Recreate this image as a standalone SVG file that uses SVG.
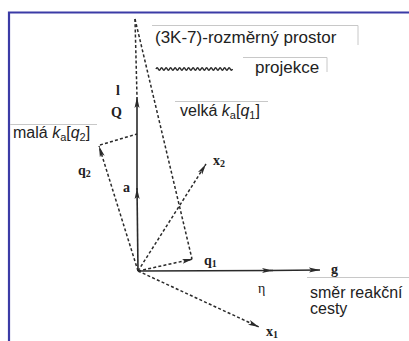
<svg xmlns="http://www.w3.org/2000/svg" width="409" height="341" viewBox="0 0 409 341">
<defs>
<style>
.frame{stroke:#3b3ba6;stroke-width:2.2;fill:none}
.sol{stroke:#2a2a2a;stroke-width:1.6;fill:none}
.dash{stroke:#2a2a2a;stroke-width:1.5;fill:none;stroke-dasharray:3 2.2}
.guide{stroke:#c8c8c8;stroke-width:1;fill:none}
.lbl{font-family:"Liberation Sans",Arial,sans-serif;font-size:16px;fill:#222}
.sym{font-family:"Liberation Serif","Times New Roman",serif;font-weight:bold;font-size:14px;fill:#222}
.it{font-style:italic}
.sub{font-size:11px}
</style>
<marker id="ah" markerUnits="userSpaceOnUse" markerWidth="12" markerHeight="6" refX="11" refY="3" orient="auto">
<path d="M0,0.5 L11,3 L0,5.5 L2.5,3 z" fill="#2a2a2a"/>
</marker>
</defs>
<rect width="409" height="341" fill="#fff"/>
<g id="frame">
<path class="frame" d="M9,341 V12.5 H409"/>
</g>
<g id="connectors">
<path class="dash" d="M135,19 L137,97"/>
<path class="dash" d="M135,19 L192,259"/>
<path class="sol" d="M138,271 L137,188" marker-end="url(#ah)"/>
<path class="sol" d="M137,190 L137,97" marker-end="url(#ah)"/>
<path class="dash" d="M138,271 L193,259" marker-end="url(#ah)"/>
<path class="dash" d="M138,271 L99,146" marker-end="url(#ah)"/>
<path class="dash" d="M100,145 L137,134"/>
<path class="dash" d="M138,271 L206,164" marker-end="url(#ah)"/>
<path class="dash" d="M138,271 L259,327" marker-end="url(#ah)"/>
<path class="sol" d="M138,271 L273,270.5" marker-end="url(#ah)"/>
<path class="sol" d="M270,270.5 L320,270" marker-end="url(#ah)"/>
</g>
<g id="legend-space">
<path class="guide" d="M152,25.5 H358 V45"/>
<text class="lbl" x="155" y="43" style="font-size:17px">(3K-7)-rozměrný prostor</text>
</g>
<g id="legend-projection">
<path class="guide" d="M243,57.5 H327 V72"/>
<path d="M156,69 q1.1,-2.4 2.25,0 t2.25,0 t2.25,0 t2.25,0 t2.25,0 t2.25,0 t2.25,0 t2.25,0 t2.25,0 t2.25,0 t2.25,0 t2.25,0 t2.25,0 t2.25,0 t2.25,0 t2.25,0 t2.25,0 t2.25,0 t2.25,0 t2.25,0 t2.25,0 t2.25,0 t2.25,0 t2.25,0 t2.25,0 t2.25,0 t2.25,0 t2.25,0 t2.25,0 t2.25,0 t2.25,0 t2.25,0 t2.25,0 t2.25,0" stroke="#2a2a2a" stroke-width="1.5" fill="none"/>
<text class="lbl" x="255" y="73" style="font-size:17px">projekce</text>
</g>
<g id="label-large">
<path class="guide" d="M175,101.5 H268"/>
<text class="lbl" x="180" y="116">velká <tspan class="it">k</tspan><tspan class="sub" dy="3">a</tspan><tspan dy="-3">[</tspan><tspan class="it">q</tspan><tspan class="sub" dy="3">1</tspan><tspan dy="-3">]</tspan></text>
</g>
<g id="label-small">
<path class="guide" d="M10,124.5 H97"/>
<text class="lbl" x="13" y="138">malá <tspan class="it">k</tspan><tspan class="sub" dy="3">a</tspan><tspan dy="-3">[</tspan><tspan class="it">q</tspan><tspan class="sub" dy="3">2</tspan><tspan dy="-3">]</tspan></text>
</g>
<g id="label-path">
<path class="guide" d="M307,277.5 H409"/>
<text class="lbl" x="310" y="298">směr reakční</text>
<text class="lbl" x="310" y="314">cesty</text>
</g>
<g id="symbols">
<text class="sym" x="116" y="95">l</text>
<text class="sym" x="111" y="117">Q</text>
<text class="sym" x="78" y="175">q<tspan font-size="10" dy="2">2</tspan></text>
<text class="sym" x="123" y="192">a</text>
<text class="sym" x="213" y="165">x<tspan font-size="10" dy="2">2</tspan></text>
<text class="sym" x="204" y="265">q<tspan font-size="10" dy="2">1</tspan></text>
<text class="sym" x="331" y="274">g</text>
<text class="sym" x="258" y="293" style="font-weight:normal">η</text>
<text class="sym" x="266" y="336">x<tspan font-size="10" dy="2">1</tspan></text>
</g>
</svg>
